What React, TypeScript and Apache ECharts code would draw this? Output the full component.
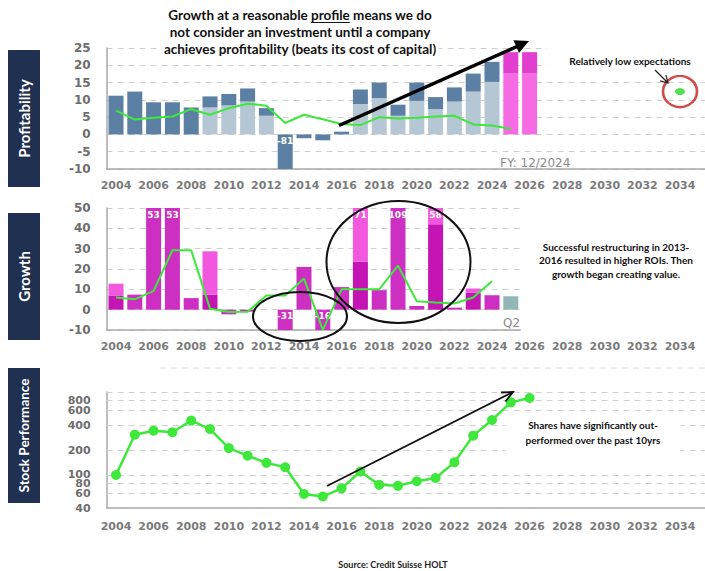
import React, { useEffect, useRef } from 'react';
import * as echarts from 'echarts';

// ---------- data ----------
const years = ['2004','2005','2006','2007','2008','2009','2010','2011','2012','2013','2014','2015','2016','2017','2018','2019','2020','2021','2022','2023','2024','2025','2026','2027','2028','2029','2030','2031','2032','2033','2034','2035'];

// Profitability (CFROI %) bars 2004-2026: total and the lighter lower part
const profitTotal = [11.2, 12.4, 9.3, 9.3, 7.8, 11.0, 11.7, 13.3, 7.6, -81, -1.1, -1.7, 0.8, 13.0, 15.0, 8.6, 15.0, 10.8, 13.6, 17.6, 21.0, 23.8, 23.8];
const profitLower = [null, null, null, null, null, 7.8, 8.4, 9.5, 5.4, null, null, null, null, 8.8, 10.5, 5.4, 9.7, 7.3, 9.5, 12.4, 15.2, 17.6, 17.6];
const forecastStart = '2025';
// green line in the profitability panel 2004-2025
const profitLine = [6.9, 4.3, 4.8, 5.2, 7.3, 5.7, 7.6, 8.9, 8.3, 3.3, 5.7, 4.4, 3.0, 2.7, 5.0, 4.6, 4.8, 5.2, 5.4, 2.9, 2.6, 1.6];
const expectationYear = '2034';
const expectationValue = 12.4;

// Growth (%) bars 2004-2025
const growthTotal = [12.8, 7.4, 53, 53, 5.7, 28.7, -2.3, -1.0, null, -31, 21, -16, 11.1, 71, 9.6, 109, 1.8, 58, 1.0, 10.4, 7.1, 6.6];
const growthCore = [7.0, null, null, null, null, 7.4, null, null, null, null, null, null, null, 23.6, null, null, null, 42, null, 8.4, null, null];
const partialYear = '2025';
const growthLine = [6.0, 5.1, 9.2, 29.2, 29.2, 0.5, -1.1, -1.0, 7.0, 7.0, 15.3, -9.9, 10.0, 10.0, 10.0, 21.6, 4.1, 3.5, 3.0, 6.0, 14.0];

// Stock performance (indexed, log scale) 2004-2026
const stockPrice = [100, 306, 342, 327, 452, 358, 211, 171, 140, 124, 59, 55, 69, 110, 76, 74, 84, 92, 142, 298, 460, 750, 847];
const stockTicks = [800, 600, 400, 200, 100, 80, 60, 40];
const stockTop = 1000;

// ---------- styles ----------
const C = {
  blueDark: '#5b80a3',
  blueLight: '#b5c6d4',
  pinkDark: '#e33fcf',
  pinkLight: '#f46be3',
  magenta: '#cc2fc2',
  magentaDark: '#c414b4',
  magentaLight: '#f158de',
  teal: '#93b6b6',
  green: '#3de83a',
  navy: '#1f3050',
  grid: '#d0d0d0',
  axis: '#a8a8a8',
  label: '#6e6e6e',
};

const GL = 106.6;
const BW = 18.8;

const clamp = (v: number, lo: number, hi: number) => Math.max(lo, Math.min(hi, v));

function xCat(gridIndex: number, n: number, showLabel: boolean, showLine: boolean, margin = 11) {
  return {
    type: 'category',
    gridIndex,
    data: years.slice(0, n),
    boundaryGap: true,
    axisTick: { show: false },
    axisLine: { show: showLine, onZero: false, lineStyle: { color: C.axis, width: 1.5 } },
    axisLabel: {
      show: showLabel, interval: 1, color: '#7b7b7b', fontFamily: 'DejaVu Sans',
      fontWeight: 'bold', fontSize: 11, margin,
    },
    splitLine: { show: false },
  };
}

function yVal(gridIndex: number, min: number, max: number, interval: number) {
  return {
    type: 'value', gridIndex, min, max, interval,
    axisLine: { show: true, lineStyle: { color: C.axis, width: 1.5 } },
    axisTick: { show: false },
    axisLabel: { color: C.label, fontFamily: 'DejaVu Sans', fontWeight: 'bold', fontSize: 12, margin: 16 },
    splitLine: { show: true, lineStyle: { color: C.grid, type: [6, 5], width: 1 } },
  };
}

const barLabel = { show: false, position: 'insideTop', color: '#fff', fontSize: 9, fontWeight: 'bold', fontFamily: 'DejaVu Sans', distance: 2 };

function buildOption() {
  const fIdx = years.indexOf(forecastStart);
  const pIdx = years.indexOf(partialYear);

  const profLowerData = profitLower.map((v, i) =>
    v == null ? null : { value: v, itemStyle: { color: i >= fIdx ? C.pinkLight : C.blueLight } });
  const profUpperData = profitTotal.map((t, i) => {
    const c = clamp(t, -10, 25);
    const lower = profitLower[i] ?? 0;
    const item: any = { value: +(c - lower).toFixed(2), itemStyle: { color: i >= fIdx ? C.pinkDark : C.blueDark } };
    if (c !== t) item.label = { show: true, formatter: String(t) };
    return item;
  });

  const growthBaseData = growthTotal.map((t, i) => {
    if (t == null) return null;
    const c = clamp(t, -10, 50);
    const core = growthCore[i];
    const color = i === pIdx ? C.teal : core != null ? C.magentaDark : C.magenta;
    const item: any = { value: core ?? c, itemStyle: { color } };
    if (core == null && c !== t) item.label = { show: true, formatter: String(t) };
    return item;
  });
  const growthTopData = growthTotal.map((t, i) => {
    const core = growthCore[i];
    if (t == null || core == null) return null;
    const c = clamp(t, -10, 50);
    const item: any = { value: +(c - core).toFixed(2), itemStyle: { color: C.magentaLight } };
    if (c !== t) item.label = { show: true, formatter: String(t) };
    return item;
  });

  // measure the title's first line to place the underline under "profile"
  const titleFont = 'bold 13.5px Lato';
  const line1 = 'Growth at a reasonable profile means we do';
  let uStart = 0, uWidth = 40, full = 270;
  try {
    const ctx = document.createElement('canvas').getContext('2d')!;
    ctx.font = titleFont;
    full = ctx.measureText(line1).width;
    uStart = ctx.measureText('Growth at a reasonable ').width;
    uWidth = ctx.measureText('profile').width;
  } catch (e) { /* ignore */ }
  const tcx = 300;
  const ux0 = tcx - full / 2 + uStart;

  const txt = (x: number, y: number, text: string, o: any = {}) => ({
    type: 'text', x, y, z: o.z ?? 50,
    rotation: o.rotation ?? 0,
    style: {
      text, fill: o.fill ?? '#111',
      fontFamily: o.fontFamily ?? 'Lato', fontWeight: o.fontWeight ?? 'bold', fontSize: o.fontSize ?? 10,
      align: o.align ?? 'center', textAlign: o.align ?? 'center',
      verticalAlign: 'middle', textVerticalAlign: 'middle',
      lineHeight: o.lineHeight,
      backgroundColor: o.bg, padding: o.padding,
    },
  });

  const sideBox = (y0: number, y1: number, label: string, fs: number) => ([
    { type: 'rect', z: 40, shape: { x: 8, y: y0, width: 32, height: y1 - y0 }, style: { fill: C.navy } },
    txt(24, (y0 + y1) / 2, label, { fill: '#fff', fontSize: fs, rotation: Math.PI / 2, z: 41 }),
  ]);

  const graphic: any[] = [
    ...sideBox(50, 187, 'Profitability', 15),
    ...sideBox(213, 340, 'Growth', 15),
    ...sideBox(368, 503, 'Stock Performance', 13.5),

    txt(tcx, 15, line1, { fontSize: 13.5, bg: '#fff', padding: [1, 2] }),
    txt(tcx, 32, 'not consider an investment until a company', { fontSize: 13.5, bg: '#fff', padding: [1, 2] }),
    txt(tcx, 49, 'achieves profitability (beats its cost of capital)', { fontSize: 13.5, bg: '#fff', padding: [1, 2] }),
    { type: 'line', z: 55, shape: { x1: ux0, y1: 22.5, x2: ux0 + uWidth, y2: 22.5 }, style: { stroke: '#111', lineWidth: 1 } },

    // big arrow in profitability panel
    { type: 'line', z: 60, shape: { x1: 339, y1: 125.5, x2: 517, y2: 46.5 }, style: { stroke: '#000', lineWidth: 3.5 } },
    { type: 'polygon', z: 60, shape: { points: [[529, 41], [519.0, 53.1], [513.4, 40.3]] }, style: { fill: '#000' } },

    txt(500, 163, 'FY: 12/2024', { align: 'left', fontFamily: 'DejaVu Sans', fontWeight: 'normal', fontSize: 12, fill: '#8a8a8a' }),

    txt(630, 61, 'Relatively low expectations', { fontSize: 10, bg: '#fff', padding: [13, 22, 5, 22] }),
    { type: 'line', z: 60, shape: { x1: 655, y1: 70, x2: 668, y2: 83 }, style: { stroke: '#222', lineWidth: 1.2 } },
    { type: 'polyline', z: 60, shape: { points: [[660.2, 80.9], [668, 83], [665.9, 75.2]] }, style: { stroke: '#222', lineWidth: 1.2, fill: 'none' } },

    // growth ellipses
    { type: 'ellipse', z: 60, shape: { cx: 300, cy: 316.5, rx: 47, ry: 24.5 }, style: { fill: 'rgba(0,0,0,0)', stroke: '#111', lineWidth: 2 } },
    { type: 'ellipse', z: 60, shape: { cx: 398.5, cy: 262, rx: 72, ry: 61 }, style: { fill: 'rgba(0,0,0,0)', stroke: '#111', lineWidth: 2 } },
    txt(503, 323, 'Q2', { align: 'left', fontFamily: 'DejaVu Sans', fontWeight: 'normal', fontSize: 12, fill: '#8a8a8a' }),
    txt(616, 260, 'Successful restructuring in 2013-\n2016 resulted in higher ROIs. Then\ngrowth began creating value.', { fontSize: 10, lineHeight: 13.5 }),

    // stray dashed line at top of stock panel
    { type: 'line', z: 1, shape: { x1: 160, y1: 368, x2: 705, y2: 368 }, style: { stroke: '#dcdcdc', lineWidth: 1, lineDash: [6, 5] } },

    // stock arrow
    { type: 'line', z: 60, shape: { x1: 327, y1: 486, x2: 513, y2: 392 }, style: { stroke: '#111', lineWidth: 1.8 } },
    { type: 'polyline', z: 60, shape: { points: [[505.4, 401.5], [513, 392], [500.9, 392.5]] }, style: { stroke: '#111', lineWidth: 1.8, fill: 'none' } },
    txt(593, 432.5, 'Shares have significantly out-\nperformed over the past 10yrs', { fontSize: 10, lineHeight: 15, bg: '#fff', padding: [6, 20] }),

    txt(393, 564, 'Source: Credit Suisse HOLT', { fontSize: 9, fill: '#222' }),
  ];

  return {
    animation: false,
    backgroundColor: '#fff',
    grid: [
      { left: GL, top: 48, width: BW * 32, height: 121, outerBoundsMode: 'none' },
      { left: GL, top: 208, width: BW * 22, height: 122, outerBoundsMode: 'none' },
      { left: GL, top: 208, width: BW * 32, height: 122, outerBoundsMode: 'none' },
      { left: GL, top: 392, width: BW * 32, height: 116, outerBoundsMode: 'none' },
    ],
    xAxis: [
      xCat(0, 32, true, true, 11),
      xCat(1, 22, false, true),
      xCat(2, 32, true, false, 11),
      xCat(3, 32, true, true, 13),
    ],
    yAxis: [
      yVal(0, -10, 25, 5),
      yVal(1, -10, 50, 10),
      { type: 'value', gridIndex: 2, min: -10, max: 50, show: false },
      {
        type: 'log', gridIndex: 3, logBase: 10, min: 40, max: stockTop,
        axisLine: { show: true, lineStyle: { color: C.axis, width: 1.5 } },
        axisTick: { show: false }, axisLabel: { show: false }, splitLine: { show: false },
      },
    ],
    series: [
      { type: 'bar', name: 'profLower', xAxisIndex: 0, yAxisIndex: 0, stack: 'prof', barWidth: 15, data: profLowerData, label: barLabel },
      { type: 'bar', name: 'profUpper', xAxisIndex: 0, yAxisIndex: 0, stack: 'prof', barWidth: 15, data: profUpperData, label: barLabel },
      { type: 'line', name: 'profLine', xAxisIndex: 0, yAxisIndex: 0, data: profitLine, symbol: 'none', lineStyle: { color: C.green, width: 2 }, z: 4 },
      { type: 'scatter', name: 'expect', xAxisIndex: 0, yAxisIndex: 0, data: [[expectationYear, expectationValue]], symbol: 'circle', symbolSize: [10, 7], itemStyle: { color: '#25d825' }, z: 5 },
      { type: 'scatter', name: 'expectRing', xAxisIndex: 0, yAxisIndex: 0, data: [[expectationYear, expectationValue]], symbol: 'circle', symbolSize: [34, 31], itemStyle: { color: 'rgba(0,0,0,0)', borderColor: '#c81e1e', borderWidth: 2.5 }, z: 5 },

      { type: 'bar', name: 'growthBase', xAxisIndex: 1, yAxisIndex: 1, stack: 'g', barWidth: 15, data: growthBaseData, label: barLabel },
      { type: 'bar', name: 'growthTop', xAxisIndex: 1, yAxisIndex: 1, stack: 'g', barWidth: 15, data: growthTopData, label: barLabel },
      { type: 'line', name: 'growthLine', xAxisIndex: 1, yAxisIndex: 1, data: growthLine, symbol: 'none', lineStyle: { color: C.green, width: 2 }, z: 4 },

      {
        type: 'line', name: 'stock', xAxisIndex: 3, yAxisIndex: 3, data: stockPrice,
        symbol: 'circle', symbolSize: 10, lineStyle: { color: C.green, width: 2.5 }, itemStyle: { color: C.green }, z: 4,
        markLine: {
          silent: true, symbol: ['none', 'none'], z: 1,
          lineStyle: { color: C.grid, type: [6, 5], width: 1 },
          label: { position: 'start', color: C.label, fontFamily: 'DejaVu Sans', fontWeight: 'bold', fontSize: 11, distance: 16 },
          data: [stockTop, ...stockTicks].map((v) => ({
            yAxis: v,
            label: { show: v !== stockTop, formatter: String(v) },
            lineStyle: v === 40 ? { color: 'rgba(0,0,0,0)' } : undefined,
          })),
        },
      },
    ],
    graphic,
  };
}

export default function App() {
  const ref = useRef<HTMLDivElement>(null);
  useEffect(() => {
    if (!ref.current) return;
    const chart = echarts.init(ref.current, null, { renderer: 'svg' });
    chart.setOption(buildOption() as any);
    return () => chart.dispose();
  }, []);
  return <div ref={ref} style={{ position: 'fixed', left: 0, top: 0, width: 705, height: 571, background: '#fff' }} />;
}
